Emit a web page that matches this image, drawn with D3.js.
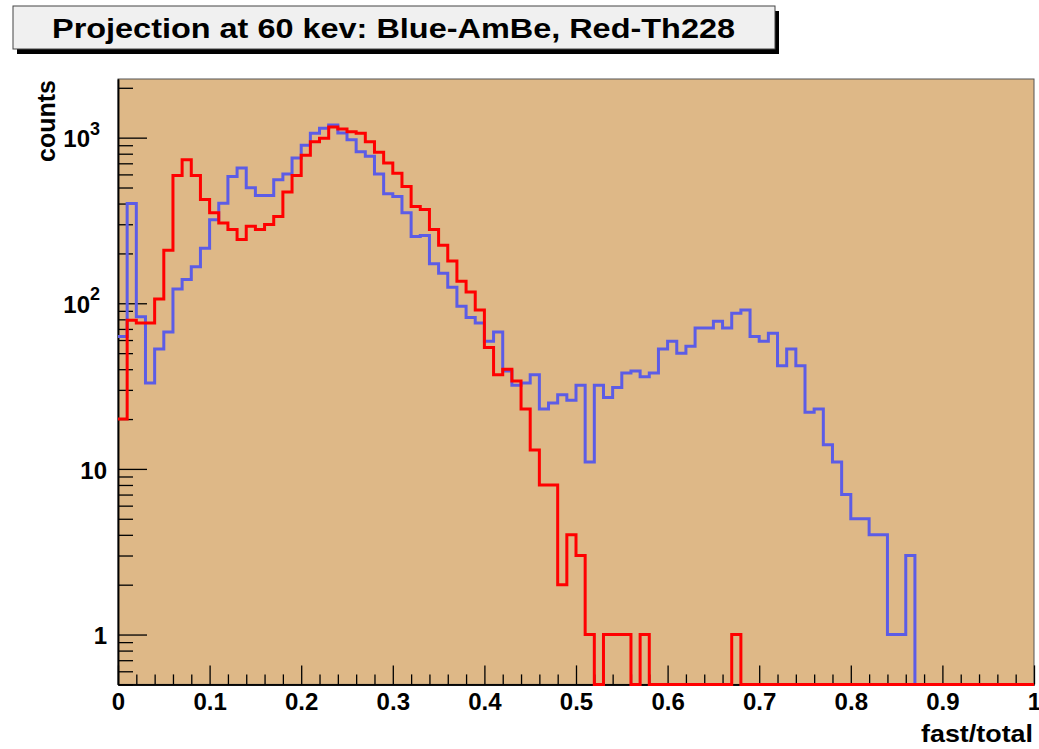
<!DOCTYPE html>
<html><head><meta charset="utf-8">
<script src="https://cdn.jsdelivr.net/npm/d3@7"></script>
<style>
body{margin:0;background:#fff}
text{font-family:"Liberation Sans",Arial,Helvetica,sans-serif;font-weight:bold;fill:#000}
</style>
</head><body>
<svg id="c" width="1039" height="749"></svg>
<script>
// ---------- data ----------
const titleText = "Projection at 60 kev: Blue-AmBe, Red-Th228";
const xTitle = "fast/total";
const yTitle = "counts";
const binWidth = 0.01;
const binStarts = d3.range(100).map(i => +(i * binWidth).toFixed(2));

// Blue – AmBe counts per bin (0.00 .. 0.99)
const amBe = [
  63, 400, 83, 33, 53, 67, 122, 139, 166, 215,
  319, 402, 582, 656, 498, 447, 447, 556, 604, 754,
  900, 1062, 1138, 1192, 1067, 972, 823, 771, 604, 458,
  441, 352, 253, 257, 173, 152, 125, 96, 82, 76,
  59, 67, 39, 32, 33, 37, 23, 25, 28, 26,
  32, 11, 32, 27, 31, 38, 39, 36, 38, 53,
  59, 50, 55, 71, 71, 78, 71, 87, 91, 63,
  59, 66, 42, 53, 42, 22, 23, 14, 11, 7,
  5, 5, 4, 4, 1, 1, 3, 0, 0, 0,
  0, 0, 0, 0, 0, 0, 0, 0, 0, 0
];
// Red – Th228 counts per bin
const th228 = [
  20, 79, 76, 76, 106, 209, 590, 736, 590, 423,
  352, 305, 279, 243, 292, 279, 299, 334, 469, 590,
  783, 946, 993, 1160, 1128, 1087, 1062, 946, 816, 703,
  609, 507, 384, 368, 279, 224, 180, 136, 117, 91,
  54, 37, 40, 34, 23, 13, 8, 8, 2, 4,
  3, 1, 0, 1, 1, 1, 0, 1, 0, 0,
  0, 0, 0, 0, 0, 0, 0, 1, 0, 0,
  0, 0, 0, 0, 0, 0, 0, 0, 0, 0,
  0, 0, 0, 0, 0, 0, 0, 0, 0, 0,
  0, 0, 0, 0, 0, 0, 0, 0, 0, 0
];

const xTicks = [0, 0.1, 0.2, 0.3, 0.4, 0.5, 0.6, 0.7, 0.8, 0.9, 1];
const xTickLabels = ["0", "0.1", "0.2", "0.3", "0.4", "0.5", "0.6", "0.7", "0.8", "0.9", "1"];
const xMinorTicks = [0.02,0.04,0.06,0.08,0.12,0.14,0.16,0.18,0.22,0.24,0.26,0.28,0.32,0.34,0.36,0.38,
  0.42,0.44,0.46,0.48,0.52,0.54,0.56,0.58,0.62,0.64,0.66,0.68,0.72,0.74,0.76,0.78,
  0.82,0.84,0.86,0.88,0.92,0.94,0.96,0.98];
const yTicks = [1, 10, 100, 1000];
const yTickBase = ["1", "10", "10", "10"];
const yTickExp = ["", "", "2", "3"];
const yMinorTicks = [0.5,0.6,0.7,0.8,0.9,2,3,4,5,6,7,8,9,20,30,40,50,60,70,80,90,
  200,300,400,500,600,700,800,900,2000];
const yDomain = [0.5, 2260];

// ---------- layout ----------
const svg = d3.select("#c");
const L = 118, R = 1034, T = 79, B = 684.4;
const x = d3.scaleLinear().domain([0, 1]).range([L, R]);
const y = d3.scaleLog().domain(yDomain).range([B, T]);

// title box
svg.append("rect").attr("x", 17).attr("y", 11).attr("width", 762).attr("height", 43).attr("fill", "#000");
svg.append("rect").attr("x", 13).attr("y", 6).attr("width", 762).attr("height", 43)
  .attr("fill", "#f0f0f0").attr("stroke", "#444").attr("stroke-width", 1);
svg.append("text").attr("x", 52).attr("y", 38).attr("font-size", 27)
  .attr("textLength", 683).attr("lengthAdjust", "spacingAndGlyphs").text(titleText);

// frame
svg.append("rect").attr("x", L).attr("y", T).attr("width", R - L).attr("height", B - T)
  .attr("fill", "#DEB887").attr("stroke", "#555").attr("stroke-width", 1);

// axes
const gx = svg.append("g").attr("transform", `translate(0,${B})`);
gx.call(d3.axisBottom(x).tickValues(xTicks).tickFormat((d, i) => xTickLabels[i])
  .tickSizeInner(-19).tickSizeOuter(0).tickPadding(9));
const gxm = svg.append("g").attr("transform", `translate(0,${B})`);
gxm.call(d3.axisBottom(x).tickValues(xMinorTicks).tickFormat("").tickSizeInner(-10).tickSizeOuter(0));

const gy = svg.append("g").attr("transform", `translate(${L},0)`);
gy.call(d3.axisLeft(y).tickValues(yTicks).tickFormat("").tickSizeInner(-29).tickSizeOuter(0).tickPadding(11));
const gym = svg.append("g").attr("transform", `translate(${L},0)`);
gym.call(d3.axisLeft(y).tickValues(yMinorTicks).tickFormat("").tickSizeInner(-15).tickSizeOuter(0));

[gx, gxm, gy, gym].forEach(g => {
  g.select(".domain").attr("stroke", "#000").attr("stroke-width", 1.5);
  g.selectAll(".tick line").attr("stroke", "#000").attr("stroke-width", 1.3);
});
gx.selectAll(".tick text").attr("font-size", 24).attr("font-family", null).attr("fill", "#000");

// y tick labels with superscripts
gy.selectAll(".tick").each(function (d, i) {
  const t = d3.select(this).append("text").attr("font-size", 24)
    .attr("text-anchor", "end").attr("dy", "0.38em");
  if (yTickExp[i]) {
    t.attr("x", -18);
    t.append("tspan").text(yTickBase[i]);
    t.append("tspan").attr("font-size", 18).attr("dy", "-0.7em").text(yTickExp[i]);
  } else {
    t.attr("x", -11).text(yTickBase[i]);
  }
});

// histograms
function stepData(vals) {
  const pts = binStarts.map((b, i) => [b, vals[i] > 0 ? vals[i] : yDomain[0]]);
  pts.push([1, pts[pts.length - 1][1]]);
  return pts;
}
const line = d3.line().x(d => x(d[0])).y(d => y(d[1])).curve(d3.curveStepAfter);
svg.append("path").datum(stepData(amBe)).attr("d", line)
  .attr("fill", "none").attr("stroke", "#5c5ce6").attr("stroke-width", 3);
svg.append("path").datum(stepData(th228)).attr("d", line)
  .attr("fill", "none").attr("stroke", "#ff0000").attr("stroke-width", 3);

// axis titles
svg.append("text").attr("x", 1033).attr("y", 742).attr("text-anchor", "end")
  .attr("font-size", 24).attr("textLength", 112).attr("lengthAdjust", "spacingAndGlyphs").text(xTitle);
svg.append("text").attr("transform", "translate(55,80) rotate(-90)").attr("text-anchor", "end")
  .attr("font-size", 25).text(yTitle);
</script>
</body></html>
